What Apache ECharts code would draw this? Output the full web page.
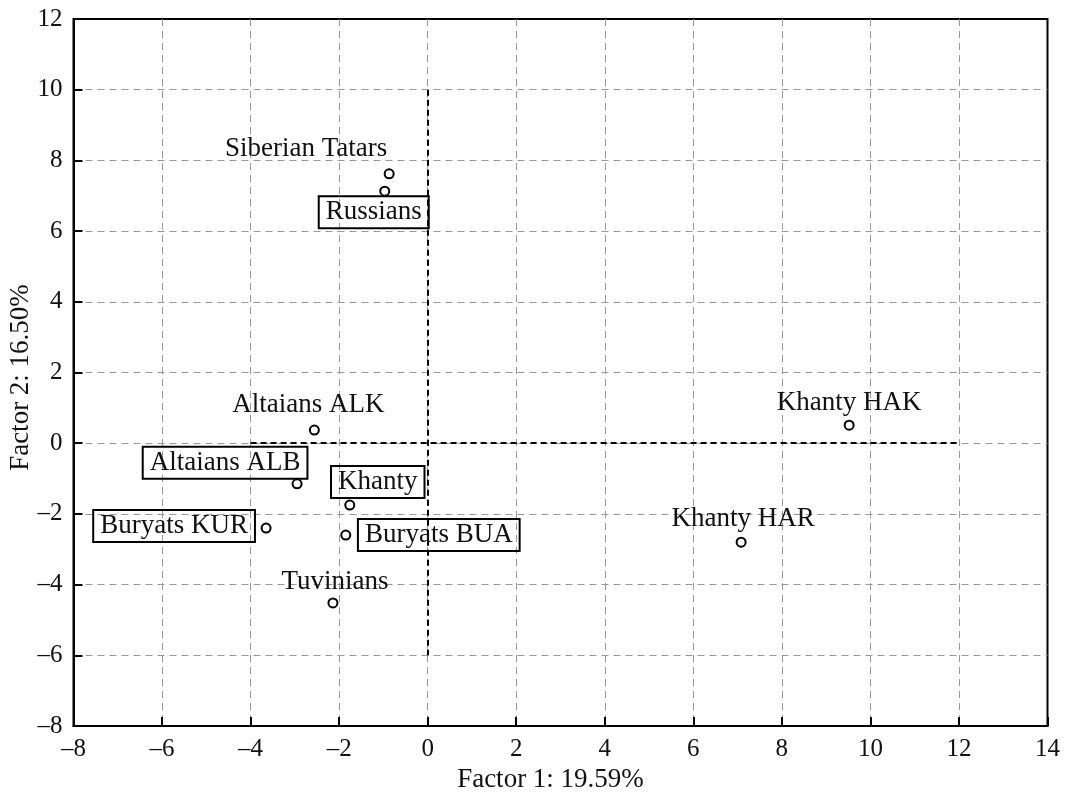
<!DOCTYPE html>
<html>
<head>
<meta charset="utf-8">
<script src="https://cdn.jsdelivr.net/npm/echarts@6/dist/echarts.min.js"></script>
<style>
html,body{margin:0;padding:0;background:#fff;}
#chart{width:1067px;height:793px;}
</style>
</head>
<body>
<div id="chart"></div>
<script>
// ---- data ----
var names = ['Siberian Tatars','Russians','Altaians ALK','Altaians ALB','Khanty','Buryats KUR','Buryats BUA','Tuvinians','Khanty HAK','Khanty HAR'];
var factor1 = [-0.87,-0.97,-2.56,-2.95,-1.76,-3.65,-1.85,-2.14,9.52,7.08];
var factor2 = [7.62,7.13,0.37,-1.15,-1.75,-2.40,-2.60,-4.52,0.51,-2.80];
var boxed = [false,true,false,true,true,true,true,false,false,false];
var xTicks = {min:-8,max:14,interval:2};
var yTicks = {min:-8,max:12,interval:2};
var vLine = [[0,10],[0,-6]];
var hLine = [[-4,0],[12,0]];

// ---- label placement (style, pixels) ----
var labelOffsets = [[-83,-25],[-11,21],[-6,-25],[-72,-21],[28,-23],[-92,-2],[93,0],[2,-21],[0,-22],[2,-23]];

var FONT = '"Liberation Serif","Times New Roman",serif';

var points = names.map(function(n,i){
  var lab = {
    show:true, position:'inside', formatter:n, offset:labelOffsets[i],
    fontFamily:FONT, fontSize:27, color:'#111', align:'center', verticalAlign:'middle'
  };
  if(boxed[i]){
    lab.borderColor='#000'; lab.borderWidth=2; lab.padding=[3,7,2,7];
  }
  return {name:n, value:[factor1[i],factor2[i]], label:lab};
});

var chart = echarts.init(document.getElementById('chart'),null,{renderer:'canvas'});
var axisCommon = {
  axisLine:{show:true,onZero:false,lineStyle:{color:'#000',width:2}},
  axisTick:{show:true,inside:true,length:9,lineStyle:{color:'#000',width:2}},
  axisLabel:{fontFamily:FONT,fontSize:25,color:'#111'},
  splitLine:{show:true,showMinLine:false,showMaxLine:false,lineStyle:{color:'#999',width:1,type:[7,5]}},
  nameLocation:'middle',
  nameMoveOverlap:false
};
function fmt(v){return v<0?'\u2013'+(-v):String(v);}
chart.setOption({
  animation:false,
  backgroundColor:'#fff',
  grid:{left:73.5,right:19.5,top:19,bottom:67,show:true,borderColor:'#000',borderWidth:2,outerBoundsMode:'none'},
  xAxis:Object.assign({},axisCommon,{type:'value',min:xTicks.min,max:xTicks.max,interval:xTicks.interval,
    name:'Factor 1: 19.59%',nameGap:40,
    nameTextStyle:{fontFamily:FONT,fontSize:27,color:'#111',padding:[0,20,0,0]},
    axisLabel:Object.assign({},axisCommon.axisLabel,{margin:11,formatter:fmt})}),
  yAxis:Object.assign({},axisCommon,{type:'value',min:yTicks.min,max:yTicks.max,interval:yTicks.interval,
    name:'Factor 2: 16.50%',nameGap:39,nameRotate:90,
    nameTextStyle:{fontFamily:FONT,fontSize:27,color:'#111',padding:[0,10,0,0]},
    axisLabel:Object.assign({},axisCommon.axisLabel,{margin:11,formatter:fmt})}),
  series:[{
    type:'scatter',
    symbol:'circle',symbolSize:9,
    itemStyle:{color:'#fff',borderColor:'#000',borderWidth:2,opacity:1},
    data:points,
    z:3,
    markLine:{
      silent:true,symbol:['none','none'],label:{show:false},
      lineStyle:{color:'#000',width:2,type:[6,4]},
      data:[
        [{coord:vLine[0]},{coord:vLine[1]}],
        [{coord:hLine[0]},{coord:hLine[1]}]
      ]
    }
  }]
});
</script>
</body>
</html>
